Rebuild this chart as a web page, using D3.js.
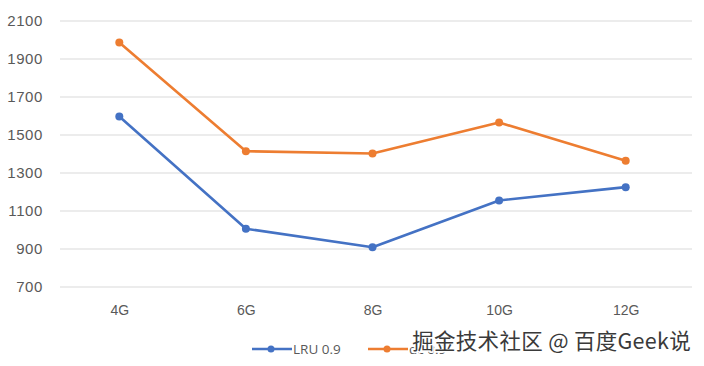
<!DOCTYPE html>
<html>
<head>
<meta charset="utf-8">
<script src="https://cdn.jsdelivr.net/npm/d3@7.9.0/dist/d3.min.js"></script>
<style>
  body { margin: 0; background: #fff; }
  svg { display: block; font-family: "Open Sans", sans-serif; }
</style>
</head>
<body>
<svg id="chart" width="704" height="366"></svg>
<script>
const width = 704;
const height = 366;
const margin = { top: 20.5, right: 12, bottom: 79.5, left: 60 };

const categories = ["4G", "6G", "8G", "10G", "12G"];
const lruValues = [1595, 1004, 907, 1153, 1223];
const otherValues = [1984, 1412, 1400, 1563, 1362];
const yTicks = [700, 900, 1100, 1300, 1500, 1700, 1900, 2100];

const series = [
  { name: "LRU 0.9", values: lruValues, color: "#4472C4" },
  { name: "dc 0.9", values: otherValues, color: "#ED7D31" }
];

const svg = d3.select("#chart");

// points sit a few px left of the grid's centre in the original
const x = d3.scalePoint()
  .domain(categories)
  .range([margin.left - 4, width - margin.right - 3])
  .padding(0.5);

const y = d3.scaleLinear()
  .domain([700, 2100])
  .range([height - margin.bottom, margin.top]);

// gridlines + y labels
const yAxis = svg.append("g")
  .attr("transform", `translate(${margin.left},0)`)
  .call(d3.axisLeft(y).tickValues(yTicks).tickFormat(d3.format("d"))
    .tickSize(-(width - margin.right - margin.left)).tickPadding(17));
yAxis.select(".domain").remove();
yAxis.selectAll(".tick line").attr("stroke", "#d9d9d9").attr("stroke-width", 1.2);
yAxis.selectAll(".tick text")
  .attr("fill", "#595959")
  .style("font-size", "15px")
  .style("letter-spacing", "0.6px");

// x labels
const xAxis = svg.append("g")
  .attr("transform", `translate(0,${y(700)})`)
  .call(d3.axisBottom(x).tickSize(0).tickPadding(19));
xAxis.select(".domain").remove();
xAxis.selectAll(".tick text")
  .attr("fill", "#595959")
  .style("font-size", "14px");

// lines
const line = d3.line()
  .x((d, i) => x(categories[i]))
  .y(d => y(d));

series.forEach(s => {
  svg.append("path")
    .datum(s.values)
    .attr("fill", "none")
    .attr("stroke", s.color)
    .attr("stroke-width", 2.6)
    .attr("stroke-linejoin", "round")
    .attr("d", line);
  svg.selectAll(null)
    .data(s.values)
    .join("circle")
    .attr("cx", (d, i) => x(categories[i]))
    .attr("cy", d => y(d))
    .attr("r", 4)
    .attr("fill", s.color);
});

// legend
const legend = svg.append("g").attr("transform", "translate(252,349)");
series.forEach((s, i) => {
  const g = legend.append("g").attr("transform", `translate(${i * 116},0)`);
  g.append("line").attr("x1", 0).attr("x2", 40).attr("y1", 0).attr("y2", 0)
    .attr("stroke", s.color).attr("stroke-width", 2.6);
  g.append("circle").attr("cx", 19).attr("cy", 0).attr("r", 3.5).attr("fill", s.color);
  g.append("text").attr("x", 41).attr("y", 5)
    .attr("fill", "#595959").style("font-size", "13.5px")
    .text(s.name);
});

// watermark
svg.append("text")
  .attr("x", 691).attr("y", 349)
  .attr("text-anchor", "end")
  .attr("fill", "#3a3a3a")
  .attr("stroke", "#fff")
  .attr("stroke-width", 3)
  .attr("paint-order", "stroke")
  .style("font-family", "'Noto Sans CJK SC', sans-serif")
  .style("font-size", "21.5px")
  .style("letter-spacing", "0.3px")
  .text("掘金技术社区 @ 百度Geek说");
</script>
</body>
</html>
